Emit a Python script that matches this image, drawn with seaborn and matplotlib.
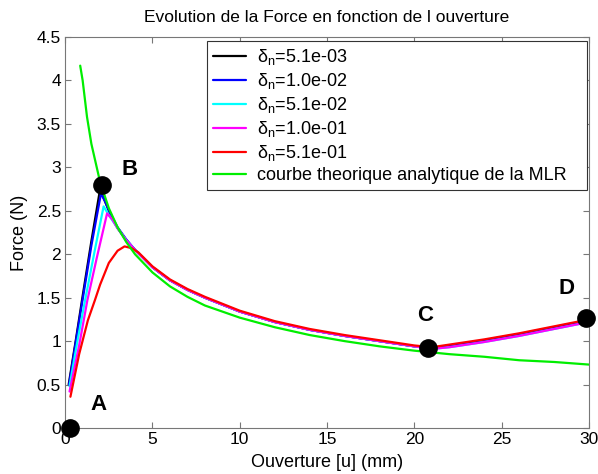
import numpy as np
import pandas as pd
import seaborn as sns
import matplotlib
matplotlib.use("Agg")
import matplotlib.pyplot as plt

# simulated curves
x_black = [0.2, 0.6, 1.0, 1.5, 2.0, 2.3, 2.6, 3.0, 3.5, 4, 5, 6, 7, 8, 10, 12, 14, 16, 18, 20, 21, 22, 24, 26, 28, 30]
y_black = [0.50, 1.00, 1.52, 2.15, 2.75, 2.60, 2.45, 2.30, 2.16, 2.05, 1.85, 1.70, 1.59, 1.50, 1.34, 1.22, 1.13, 1.06, 1.00, 0.94, 0.92, 0.95, 1.01, 1.08, 1.16, 1.24]
x_blue = [0.22, 0.6, 1.0, 1.5, 2.05, 2.3, 2.6, 3.0, 3.5, 4, 5, 6, 7, 8, 10, 12, 14, 16, 18, 20, 21, 22, 24, 26, 28, 30]
y_blue = [0.50, 0.98, 1.48, 2.10, 2.70, 2.60, 2.46, 2.31, 2.17, 2.05, 1.85, 1.70, 1.59, 1.50, 1.34, 1.22, 1.13, 1.06, 1.00, 0.94, 0.92, 0.95, 1.01, 1.08, 1.16, 1.24]
x_cyan = [0.25, 0.7, 1.14, 1.7, 2.2, 2.5, 3.0, 3.5, 4, 5, 6, 7, 8, 10, 12, 14, 16, 18, 20, 21, 22, 24, 26, 28, 30]
y_cyan = [0.48, 1.00, 1.47, 2.05, 2.55, 2.45, 2.30, 2.16, 2.05, 1.85, 1.70, 1.59, 1.50, 1.34, 1.22, 1.13, 1.06, 1.00, 0.94, 0.91, 0.93, 0.99, 1.06, 1.14, 1.22]
x_magenta = [0.25, 0.8, 1.27, 1.8, 2.4, 2.7, 3.0, 3.5, 4, 5, 6, 7, 8, 10, 12, 14, 16, 18, 20, 21, 22, 24, 26, 28, 30]
y_magenta = [0.42, 0.95, 1.47, 1.95, 2.47, 2.40, 2.30, 2.16, 2.05, 1.85, 1.70, 1.59, 1.50, 1.34, 1.22, 1.13, 1.06, 1.00, 0.94, 0.91, 0.93, 0.99, 1.06, 1.14, 1.22]
x_red = [0.3, 0.8, 1.3, 1.7, 2.0, 2.5, 3.0, 3.4, 3.8, 4.2, 5, 6, 7, 8, 10, 12, 14, 16, 18, 20, 21, 22, 24, 26, 28, 30]
y_red = [0.36, 0.85, 1.24, 1.47, 1.65, 1.90, 2.04, 2.09, 2.07, 2.02, 1.86, 1.71, 1.60, 1.51, 1.35, 1.23, 1.14, 1.07, 1.01, 0.95, 0.93, 0.96, 1.02, 1.09, 1.17, 1.25]

# theoretical curve
x_green = [0.86, 1.0, 1.25, 1.5, 2.0, 2.5, 3.0, 3.5, 4, 5, 6, 7, 8, 10, 12, 14, 16, 18, 20, 22, 24, 26, 28, 30]
y_green = [4.17, 4.00, 3.58, 3.27, 2.83, 2.53, 2.31, 2.14, 2.00, 1.79, 1.63, 1.51, 1.41, 1.27, 1.16, 1.07, 1.00, 0.94, 0.89, 0.85, 0.82, 0.78, 0.76, 0.73]

labels = [r"$\mathregular{\delta_n}$=5.1e-03", r"$\mathregular{\delta_n}$=1.0e-02",
          r"$\mathregular{\delta_n}$=5.1e-02", r"$\mathregular{\delta_n}$=1.0e-01",
          r"$\mathregular{\delta_n}$=5.1e-01", "courbe theorique analytique de la MLR"]
colors = ["#000000", "#0000ff", "#00ffff", "#ff00ff", "#ff0000", "#00ee00"]

# points A, B, C, D
pt_names = ["A", "B", "C", "D"]
pt_x = [0.3, 2.1, 20.8, 29.8]
pt_y = [0.0, 2.8, 0.92, 1.27]
lbl_x = [1.9, 3.7, 20.6, 28.7]
lbl_y = [0.27, 2.97, 1.3, 1.6]

sns.set_style("ticks")
plt.rcParams['font.family'] = ['Liberation Sans', 'DejaVu Sans']
plt.rcParams['mathtext.fontset'] = 'custom'
plt.rcParams['mathtext.rm'] = 'Liberation Sans'
plt.rcParams['mathtext.it'] = 'Liberation Sans'
plt.rcParams['text.color'] = 'black'
plt.rcParams['axes.labelcolor'] = 'black'

series = [(x_black, y_black), (x_blue, y_blue), (x_cyan, y_cyan),
          (x_magenta, y_magenta), (x_red, y_red), (x_green, y_green)]
frames = []
for lab, (xs, ys) in zip(labels, series):
    frames.append(pd.DataFrame({"x": xs, "y": ys, "serie": lab}))
df = pd.concat(frames, ignore_index=True)

fig = plt.figure(figsize=(5.98, 4.74), dpi=100)
ax = fig.add_axes([0.109, 0.097, 0.876, 0.825])

sns.lineplot(data=df, x="x", y="y", hue="serie", hue_order=labels,
             palette=colors, sort=False, estimator=None, linewidth=1.6, ax=ax)

pts = pd.DataFrame({"x": pt_x, "y": pt_y})
sns.scatterplot(data=pts, x="x", y="y", color="black", s=155, edgecolor="black",
                zorder=5, clip_on=False, ax=ax, legend=False)
for name, lx, ly in zip(pt_names, lbl_x, lbl_y):
    ax.text(lx, ly, name, fontsize=16, fontweight="bold", ha="center", va="center",
            color="black")

ax.set_xlim(0, 30)
ax.set_ylim(0, 4.5)
ax.set_xticks(range(0, 31, 5))
ax.set_yticks(np.arange(0, 4.51, 0.5))
ax.set_yticklabels(["0", "0.5", "1", "1.5", "2", "2.5", "3", "3.5", "4", "4.5"])
ax.tick_params(direction="in", top=True, right=True, labelsize=12.5, color="#777777",
               labelcolor="black", length=4, pad=3)
for sp in ax.spines.values():
    sp.set_color("#777777")
    sp.set_visible(True)

ax.set_title("Evolution de la Force en fonction de l ouverture", fontsize=12.5, pad=11,
             color="black")
ax.set_xlabel("Ouverture [u] (mm)", fontsize=13, labelpad=5)
ax.set_ylabel("Force (N)", fontsize=13, labelpad=6)

leg = ax.legend(loc="upper left", bbox_to_anchor=(0.271, 0.0, 0.725, 0.99), mode="expand",
                borderaxespad=0, fontsize=13, frameon=True, fancybox=False,
                edgecolor="#333333", framealpha=1, handlelength=1.8, handletextpad=0.6,
                labelspacing=0.22, borderpad=0.35)
leg.get_frame().set_linewidth(0.8)
for t in leg.get_texts():
    t.set_color("black")

fig.savefig("out.png", dpi=100)
